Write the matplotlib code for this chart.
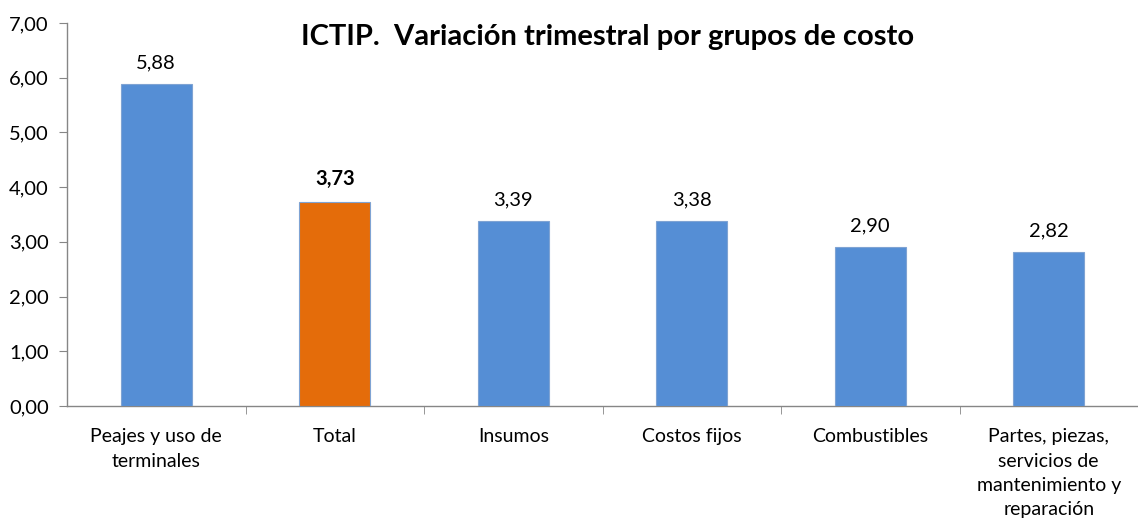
import matplotlib
matplotlib.use("Agg")
import matplotlib.pyplot as plt
from matplotlib.ticker import FuncFormatter, FixedLocator

categories = ["Peajes y uso de\nterminales", "Total", "Insumos", "Costos fijos",
              "Combustibles", "Partes, piezas,\nservicios de\nmantenimiento y\nreparación"]
values = [5.88, 3.73, 3.39, 3.38, 2.90, 2.82]
highlight = "Total"
title = "ICTIP.  Variación trimestral por grupos de costo"

plt.rcParams['font.family'] = ['Lato', 'DejaVu Sans']

fig = plt.figure(figsize=(11.38, 5.18), dpi=100)
ax = fig.add_axes([67/1138, 1-406/518, 1-67/1138, (406-23)/518])

colors = ['#E46C0A' if c == highlight else '#558ED5' for c in categories]
x = list(range(len(categories)))
bars = ax.bar(x, values, width=0.4, color=colors, edgecolor='#7FA3D3', linewidth=0.8, zorder=3)

for xi, v, c in zip(x, values, categories):
    ax.annotate(f"{v:.2f}".replace('.', ','), (xi, v), xytext=(0, 9), textcoords='offset points',
                ha='center', va='bottom', fontsize=14.5,
                fontweight='bold' if c == highlight else 'normal', color='#000000')

ax.set_xlim(-0.5, len(categories) - 0.5)
ax.set_ylim(0, 7)
ax.set_yticks([0, 1, 2, 3, 4, 5, 6, 7])
ax.yaxis.set_major_formatter(FuncFormatter(lambda v, p: f"{v:.2f}".replace('.', ',')))
ax.set_xticks(x)
ax.set_xticklabels(categories, fontsize=14, linespacing=1.52)
ax.xaxis.set_minor_locator(FixedLocator([i + 0.5 for i in range(len(categories) - 1)]))
ax.tick_params(axis='x', which='major', length=0, pad=16)
ax.tick_params(axis='x', which='minor', length=6, color='#868686', direction='out')
ax.tick_params(axis='y', length=6, color='#868686', labelsize=14.5, pad=7)

for s in ['top', 'right']:
    ax.spines[s].set_visible(False)
for s in ['left', 'bottom']:
    ax.spines[s].set_color('#868686')
    ax.spines[s].set_linewidth(1)

fig.text(608/1138, 1-37/518, title, ha='center', va='center', fontsize=21, fontweight='bold')

fig.savefig("out.png", dpi=100)
